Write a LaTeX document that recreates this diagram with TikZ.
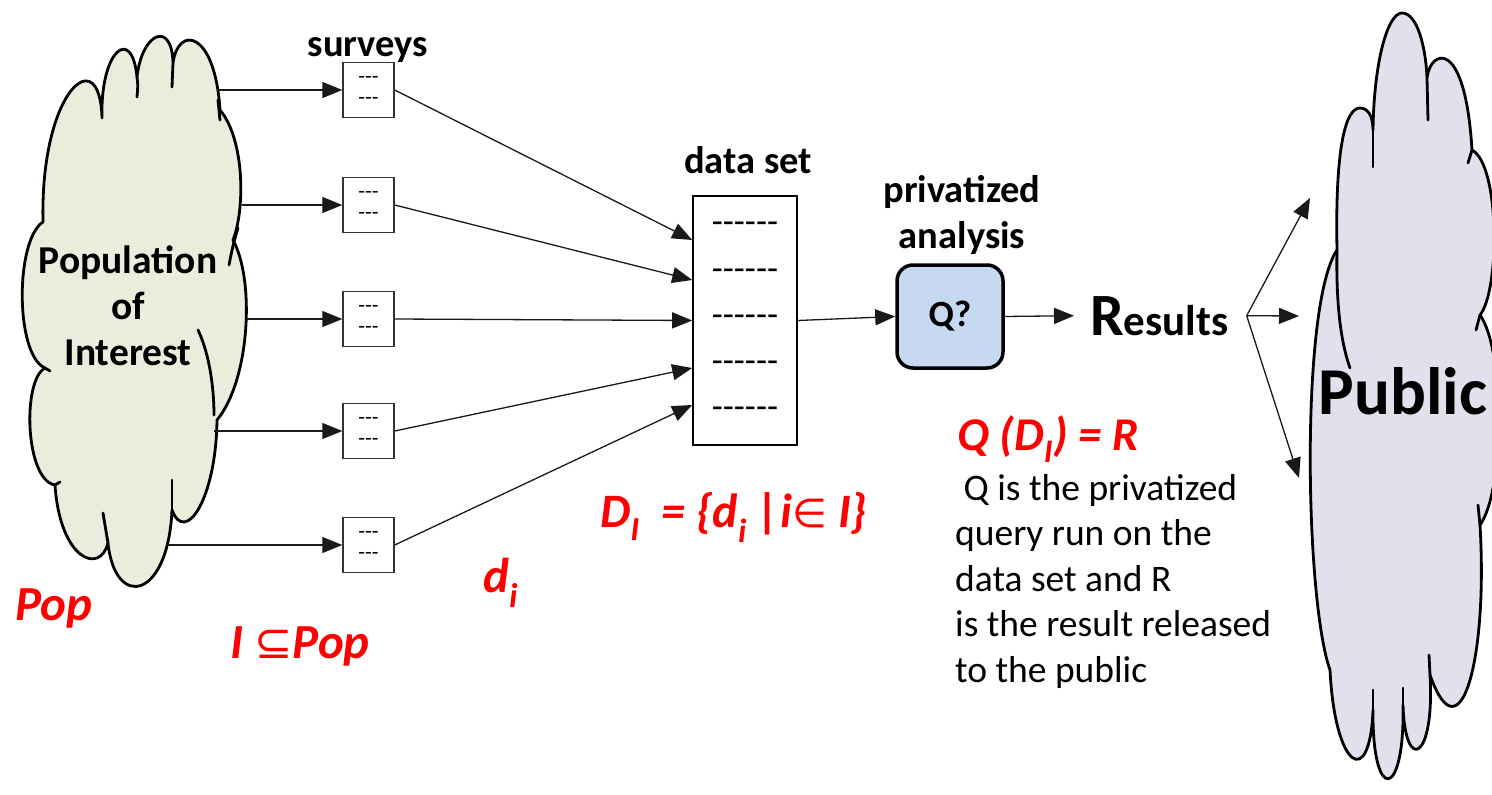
\documentclass[tikz,border=0pt]{standalone}
\usepackage{fontspec}
\setmainfont{Carlito}
\newfontfamily\symfont{DejaVu Sans}
\usetikzlibrary{arrows.meta}
\definecolor{popfill}{HTML}{E9EDDC}
\definecolor{pubfill}{HTML}{E4DFEC}
\definecolor{qfill}{HTML}{C6D9F1}
\definecolor{redlbl}{HTML}{FF0000}
\begin{document}
\begin{tikzpicture}[x=1pt,y=-1pt,
  cloudline/.style={line width=2.8pt, draw=black, line join=round},
  cstroke/.style={line width=2.8pt, draw=black, line cap=round},
  survey/.style={draw=black!80, line width=1.4pt, minimum width=51pt, minimum height=55pt, inner sep=0pt, align=center, font=\fontsize{22}{21}\selectfont, fill=white},
  dataset/.style={draw=black, line width=1.6pt, minimum width=104pt, minimum height=249pt, inner sep=0pt, align=center, font=\fontsize{36}{46.2}\selectfont, fill=white},
  qbox/.style={draw=black, line width=3.5pt, rounded corners=16pt, fill=qfill, minimum width=106pt, minimum height=103pt, inner sep=0pt, font=\bfseries\fontsize{37}{40}\selectfont},
  lbl/.style={font=\bfseries\fontsize{38.5}{46}\selectfont, inner sep=0pt, align=center},
  redtxt/.style={text=redlbl, font=\bfseries\itshape\fontsize{49}{50}\selectfont, inner sep=0pt, anchor=base west},
  desc/.style={font=\fontsize{37.5}{45.5}\selectfont, inner sep=0pt, align=left, anchor=north west},
  arr/.style={draw=black!90, line width=1.3pt, -{Triangle[length=20pt,width=16pt]}},
]
\useasboundingbox[fill=white] (0,0) rectangle (1492,795);

% ---------- left cloud (Population of Interest)
\path[cloudline, fill=popfill] (43,222)
 .. controls (40,90) and (100,40) .. (102,118)
 .. controls (100,50) and (132,25) .. (137,77)
 .. controls (142,32) and (172,20) .. (173,63)
 .. controls (178,25) and (215,30) .. (220,110)
 .. controls (245,140) and (245,210) .. (233,240)
 .. controls (255,280) and (250,380) .. (217,420)
 .. controls (216,500) and (185,545) .. (172,510)
 .. controls (168,600) and (115,610) .. (108,543)
 .. controls (100,575) and (60,560) .. (55,485)
 .. controls (25,480) and (22,380) .. (45,368)
 .. controls (15,355) and (15,240) .. (43,222) -- cycle;
\draw[cstroke] (137,77) .. controls (138,85) .. (137,97);
\draw[cstroke] (173,63) .. controls (173,75) .. (172,87);
\draw[cstroke] (218,100) -- (220,120);
\draw[cstroke] (238,228) .. controls (233,245) .. (229,265);
\draw[cstroke] (198,330) .. controls (210,355) and (214,390) .. (214,415);
\draw[cstroke] (172,510) -- (172,480);
\draw[cstroke] (108,543) -- (103,513);
\draw[cstroke] (55,485) -- (60,482);
\draw[cstroke] (45,368) -- (50,371);

% ---------- right cloud (Public)
\path[cloudline, fill=pubfill] (1337,250)
 .. controls (1335,150) and (1345,108) .. (1360,108)
 .. controls (1370,108) and (1373,120) .. (1373,130)
 .. controls (1374,60) and (1388,13) .. (1402,13)
 .. controls (1418,13) and (1426,50) .. (1427,78)
 .. controls (1430,50) and (1465,35) .. (1472,150)
 .. controls (1500,165) and (1500,290) .. (1480,315)
 .. controls (1505,350) and (1505,490) .. (1480,525)
 .. controls (1488,660) and (1460,760) .. (1430,675)
 .. controls (1435,760) and (1405,775) .. (1403,705)
 .. controls (1405,800) and (1372,805) .. (1373,710)
 .. controls (1370,790) and (1335,770) .. (1330,670)
 .. controls (1305,600) and (1300,305) .. (1337,250) -- cycle;
\draw[cstroke] (1337,250) .. controls (1336,300) and (1340,340) .. (1350,368);
\draw[cstroke] (1373,130) -- (1373,167);
\draw[cstroke] (1427,78) -- (1428,120);
\draw[cstroke] (1472,150) -- (1468,163);
\draw[cstroke] (1480,315) -- (1476,330);
\draw[cstroke] (1480,525) -- (1478,505);
\draw[cstroke] (1430,675) -- (1429,655);
\draw[cstroke] (1403,705) -- (1403,688);
\draw[cstroke] (1373,710) -- (1373,690);

% ---------- cloud texts
\node[lbl, font=\bfseries\fontsize{39.5}{46}\selectfont] (popt) at (128,306) {Population\\of\\Interest};
\node[font=\bfseries\fontsize{67}{70}\selectfont, inner sep=0pt, anchor=base] (pubt) at (1403,414) {Public};

% ---------- surveys
\node[lbl, anchor=base] (survlbl) at (368,56) {surveys};
\node[survey] (s1) at (368.5,90) {-{}-{}-\\-{}-{}-};
\node[survey] (s2) at (368.5,205) {-{}-{}-\\-{}-{}-};
\node[survey] (s3) at (368.5,319) {-{}-{}-\\-{}-{}-};
\node[survey] (s4) at (368.5,431) {-{}-{}-\\-{}-{}-};
\node[survey] (s5) at (368.5,545) {-{}-{}-\\-{}-{}-};

\coordinate (p1) at (217,90);
\coordinate (p2) at (242,205);
\coordinate (p3) at (246,319);
\coordinate (p4) at (214,431);
\coordinate (p5) at (167,545);
\draw[arr] (p1) -- (s1.west);
\draw[arr] (p2) -- (s2.west);
\draw[arr] (p3) -- (s3.west);
\draw[arr] (p4) -- (s4.west);
\draw[arr] (p5) -- (s5.west);

% ---------- data set
\node[lbl, anchor=base] (dslbl) at (748,173) {data set};
\node[dataset] (ds) at (745,320.5) {-{}-{}-{}-{}-{}-\\-{}-{}-{}-{}-{}-\\-{}-{}-{}-{}-{}-\\-{}-{}-{}-{}-{}-\\-{}-{}-{}-{}-{}-};
\draw[arr] (s1.east) -- ([yshift=80.5pt]ds.west);
\draw[arr] (s2.east) -- ([yshift=40.5pt]ds.west);
\draw[arr] (s3.east) -- (ds.west);
\draw[arr] (s4.east) -- ([yshift=-47.5pt]ds.west);
\draw[arr] (s5.east) -- ([yshift=-84.5pt]ds.west);

% ---------- privatized analysis
\node[lbl] (palbl) at (962,215) {privatized\\analysis};
\node[qbox] (q) at (950,316.5) {Q?};
\draw[arr] (ds.east) -- (q.west);

% ---------- results
\node[anchor=base west, inner sep=0pt, font=\bfseries] (res) at (1090,335) {{\fontsize{60}{60}\selectfont R}{\fontsize{43}{43}\selectfont esults}};
\draw[arr] (q.east) -- ([xshift=-16pt]res.west);
\coordinate (sp) at ([xshift=18pt]res.east);
\coordinate (t1) at (1310,198);
\coordinate (t2) at (1299,316);
\coordinate (t3) at (1299,478);
\draw[arr] (sp) -- (t1);
\draw[arr] (sp) -- (t2);
\draw[arr] (sp) -- (t3);

% ---------- red labels
\node[redtxt] (poplbl) at (15,620) {Pop};
\node[redtxt] (ilbl) at (230,658) {I {\mdseries\upshape\symfont\fontsize{46}{50}\selectfont ⊆}Pop};
\node[redtxt] (dilbl) at (483,592) {d\textsubscript{i}};
\node[redtxt, font=\bfseries\itshape\fontsize{48}{50}\selectfont] (dsetlbl) at (600,527) {D\textsubscript{I}\ \ = \{d\textsubscript{i} |i{\mdseries\upshape\symfont\fontsize{40}{50}\selectfont ∈} I\}};
\node[redtxt, font=\bfseries\itshape\fontsize{47}{50}\selectfont] (qdr) at (957,450) {Q (D\textsubscript{I}) = R};

% ---------- description
\node[desc] (desctxt) at (955,474) {\ Q is the privatized\\query run on the\\data set and R\\is the result released\\to the public};
\end{tikzpicture}
\end{document}
